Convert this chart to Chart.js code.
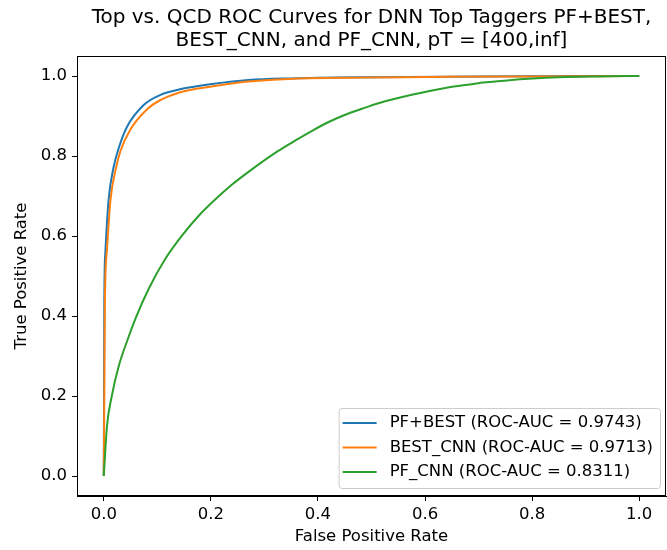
<!DOCTYPE html>
<html>
<head>
<meta charset="utf-8">
<script src="https://cdn.jsdelivr.net/npm/chart.js"></script>
<style>
  body { margin: 0; background: #fff; }
  canvas { display: block; }
</style>
</head>
<body>
<canvas id="rocChart" width="667" height="550"></canvas>
<script>
// courbes ROC
var seriesLabels = ['PF+BEST (ROC-AUC = 0.9743)', 'BEST_CNN (ROC-AUC = 0.9713)', 'PF_CNN (ROC-AUC = 0.8311)'];
var seriesColors = ['#1f77b4', '#ff7f0e', '#2ca02c'];
var axisTicks = [0.0, 0.2, 0.4, 0.6, 0.8, 1.0];

var pfBestFpr = [0, 0.0005, 0.001, 0.003, 0.009, 0.018, 0.028, 0.043, 0.075, 0.106, 0.137, 0.168, 0.202, 0.27, 0.35, 0.5, 0.7, 1.0];
var pfBestTpr = [0, 0.2, 0.44, 0.56, 0.69, 0.77, 0.82, 0.872, 0.928, 0.953, 0.965, 0.973, 0.98, 0.99, 0.994, 0.997, 0.999, 1.0];

var bestCnnFpr = [0, 0.001, 0.002, 0.006, 0.0125, 0.022, 0.031, 0.05, 0.081, 0.106, 0.137, 0.168, 0.202, 0.27, 0.364, 0.5, 0.644, 0.8, 1.0];
var bestCnnTpr = [0, 0.2, 0.425, 0.566, 0.69, 0.765, 0.812, 0.867, 0.917, 0.94, 0.957, 0.967, 0.974, 0.986, 0.994, 0.996, 0.998, 0.999, 1.0];

var pfCnnFpr = [0, 0.006, 0.015, 0.028, 0.047, 0.059, 0.084, 0.115, 0.146, 0.177, 0.208, 0.239, 0.271, 0.325, 0.358, 0.389, 0.42, 0.451, 0.482, 0.513, 0.544, 0.575, 0.606, 0.638, 0.668, 0.7, 0.731, 0.762, 0.793, 0.85, 0.923, 1.0];
var pfCnnTpr = [0, 0.125, 0.2, 0.275, 0.35, 0.393, 0.468, 0.543, 0.601, 0.65, 0.691, 0.728, 0.761, 0.812, 0.839, 0.863, 0.885, 0.903, 0.918, 0.932, 0.943, 0.953, 0.962, 0.97, 0.976, 0.982, 0.986, 0.99, 0.993, 0.997, 0.999, 1.0];

function toPoints(xs, ys) {
    return xs.map(function (x, i) { return { x: x, y: ys[i] }; });
}

var fontFamily = "'DejaVu Sans', sans-serif";

// cadre complet + légende façon matplotlib
var frameAndLegend = {
    id: 'frameAndLegend',
    afterDraw: function (chart) {
        var ctx = chart.ctx;
        var a = chart.chartArea;
        ctx.save();
        ctx.strokeStyle = '#000';
        ctx.lineWidth = 1;
        ctx.strokeRect(a.left + 0.5, a.top + 0.5, a.right - a.left - 1, a.bottom - a.top - 1);

        ctx.font = "16.5px " + fontFamily;
        var maxW = 0;
        seriesLabels.forEach(function (t) { maxW = Math.max(maxW, ctx.measureText(t).width); });
        var rowH = 24.5;
        var boxW = 4 + 34 + 13 + maxW + 7;
        var boxH = 80;
        var right = a.right - 6;
        var bottom = a.bottom - 8;
        var left = right - boxW;
        var top = bottom - boxH;

        ctx.beginPath();
        ctx.roundRect(left + 0.5, top + 0.5, boxW, boxH, 3);
        ctx.fillStyle = 'rgba(255,255,255,0.8)';
        ctx.fill();
        ctx.strokeStyle = '#cccccc';
        ctx.stroke();

        ctx.textBaseline = 'middle';
        ctx.textAlign = 'left';
        seriesLabels.forEach(function (t, i) {
            var y = top + 15 + i * rowH;
            ctx.strokeStyle = seriesColors[i];
            ctx.lineWidth = 2;
            ctx.beginPath();
            ctx.moveTo(left + 4, y);
            ctx.lineTo(left + 38, y);
            ctx.stroke();
            ctx.fillStyle = '#000';
            ctx.fillText(t, left + 51, y);
        });
        ctx.restore();
    }
};

var ctx = document.getElementById("rocChart").getContext("2d");
var rocChart = new Chart(ctx, {
    type: 'scatter',
    data: {
        datasets: [{
            label: seriesLabels[0],
            data: toPoints(pfBestFpr, pfBestTpr),
            borderColor: seriesColors[0],
            order: 3
        }, {
            label: seriesLabels[1],
            data: toPoints(bestCnnFpr, bestCnnTpr),
            borderColor: seriesColors[1],
            order: 2
        }, {
            label: seriesLabels[2],
            data: toPoints(pfCnnFpr, pfCnnTpr),
            borderColor: seriesColors[2],
            order: 1
        }]
    },
    options: {
        responsive: false,
        animation: false,
        devicePixelRatio: 1,
        showLine: true,
        elements: {
            point: { radius: 0, hoverRadius: 0 },
            line: { borderWidth: 2, cubicInterpolationMode: 'monotone' }
        },
        layout: { padding: { left: 0, right: 1, top: 0, bottom: 0 } },
        plugins: {
            legend: { display: false },
            tooltip: { enabled: false },
            title: {
                display: true,
                fullSize: false,
                text: ['Top vs. QCD ROC Curves for DNN Top Taggers PF+BEST,', 'BEST_CNN, and PF_CNN, pT = [400,inf]'],
                color: '#000',
                font: { family: fontFamily, size: 20, weight: 'normal', lineHeight: '23px' },
                padding: { top: 6, bottom: 4 }
            }
        },
        scales: {
            x: {
                type: 'linear',
                min: -0.05,
                max: 1.05,
                afterBuildTicks: function (s) { s.ticks = axisTicks.map(function (v) { return { value: v }; }); },
                afterFit: function (s) { s.height = 54; },
                ticks: {
                    color: '#000',
                    padding: 4,
                    maxRotation: 0,
                    font: { family: fontFamily, size: 16.5 },
                    callback: function (v) { return v.toFixed(1); }
                },
                grid: { drawOnChartArea: false, drawTicks: true, tickLength: 5, color: '#000', lineWidth: 1 },
                border: { display: true, color: '#000', width: 1 },
                title: {
                    display: true,
                    text: 'False Positive Rate',
                    color: '#000',
                    font: { family: fontFamily, size: 16.5 },
                    padding: { top: 0, bottom: 3 }
                }
            },
            y: {
                type: 'linear',
                min: -0.05,
                max: 1.05,
                afterBuildTicks: function (s) { s.ticks = axisTicks.map(function (v) { return { value: v }; }); },
                afterFit: function (s) { s.width = 77; },
                ticks: {
                    color: '#000',
                    padding: 5,
                    font: { family: fontFamily, size: 16.5 },
                    callback: function (v) { return v.toFixed(1); }
                },
                grid: { drawOnChartArea: false, drawTicks: true, tickLength: 5, color: '#000', lineWidth: 1 },
                border: { display: true, color: '#000', width: 1 },
                title: {
                    display: true,
                    text: 'True Positive Rate',
                    color: '#000',
                    font: { family: fontFamily, size: 16.5 },
                    padding: { top: 12, bottom: 0 }
                }
            }
        }
    },
    plugins: [frameAndLegend]
});
</script>
</body>
</html>
